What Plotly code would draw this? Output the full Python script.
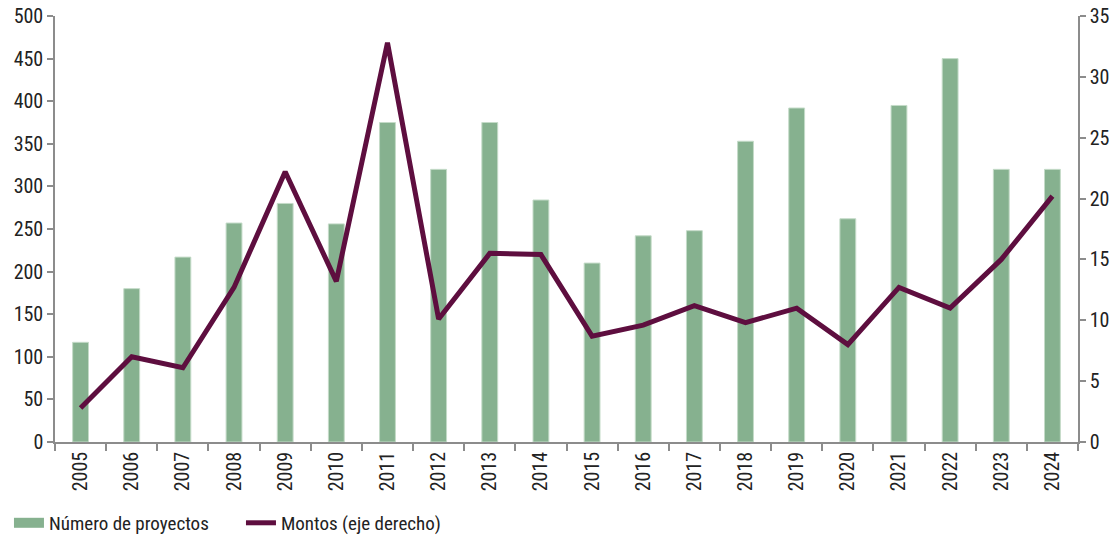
import plotly.graph_objects as go

years = [str(y) for y in range(2005, 2025)]
proyectos = [117, 180, 217, 257, 280, 256, 375, 320, 375, 284,
             210, 242, 248, 353, 392, 262, 395, 450, 320, 320]
montos = [2.8, 7.0, 6.1, 12.7, 22.2, 13.2, 32.8, 10.1, 15.5, 15.4,
          8.7, 9.6, 11.2, 9.8, 11.0, 8.0, 12.7, 11.0, 15.0, 20.2]
left_ticks = list(range(0, 501, 50))
right_ticks = list(range(0, 36, 5))

FONT = "Roboto Condensed, Liberation Sans Narrow, Roboto, sans-serif"
AX = "#8c8c8c"
GREEN = "#86b18f"
PLUM = "#5e0e3f"

fig = go.Figure()
fig.add_trace(go.Bar(
    x=years, y=proyectos, name="Número de proyectos",
    marker=dict(color=GREEN, line=dict(color="#c4dbc8", width=1)),
    yaxis="y", showlegend=False,
))
# legend proxy for the bars (wide rectangle swatch)
fig.add_trace(go.Scatter(
    x=[None], y=[None], name="Número de proyectos", mode="lines",
    line=dict(color=GREEN, width=16), yaxis="y", showlegend=True,
))
fig.add_trace(go.Scatter(
    x=years, y=montos, name="Montos (eje derecho)", mode="lines",
    line=dict(color=PLUM, width=5), yaxis="y2",
))

fig.update_layout(
    width=1114, height=536,
    margin=dict(l=55, r=36, t=16, b=94, autoexpand=False),
    paper_bgcolor="white", plot_bgcolor="white",
    font=dict(family=FONT, size=20, color="#222222"),
    bargap=0.69,
    showlegend=True,
    legend=dict(orientation="h", x=-0.045, y=-0.19, xanchor="left", yanchor="middle",
                font=dict(size=19, color="#222222"), traceorder="normal",
                itemwidth=30, entrywidth=187, bgcolor="rgba(0,0,0,0)"),
    xaxis=dict(
        type="category", showline=True, linecolor=AX, linewidth=1.5,
        ticks="outside", tickson="boundaries", ticklen=7, tickcolor=AX, tickwidth=1.5,
        tickangle=-90, showgrid=False, tickfont=dict(size=20), automargin=False,
    ),
    yaxis=dict(
        range=[0, 500], tickvals=left_ticks, showline=True, linecolor=AX, linewidth=1.5,
        ticks="outside", ticklen=6, tickcolor=AX, tickwidth=1.5, showgrid=False,
        zeroline=False, tickfont=dict(size=20), automargin=False,
    ),
    yaxis2=dict(
        range=[0, 35], tickvals=right_ticks, overlaying="y", side="right",
        showline=True, linecolor=AX, linewidth=1.5,
        ticks="outside", ticklen=6, tickcolor=AX, tickwidth=1.5, showgrid=False,
        zeroline=False, tickfont=dict(size=20), automargin=False,
    ),
)

fig.write_html("out.html", config={"displayModeBar": False},
               post_script="document.body.style.margin='0';")
